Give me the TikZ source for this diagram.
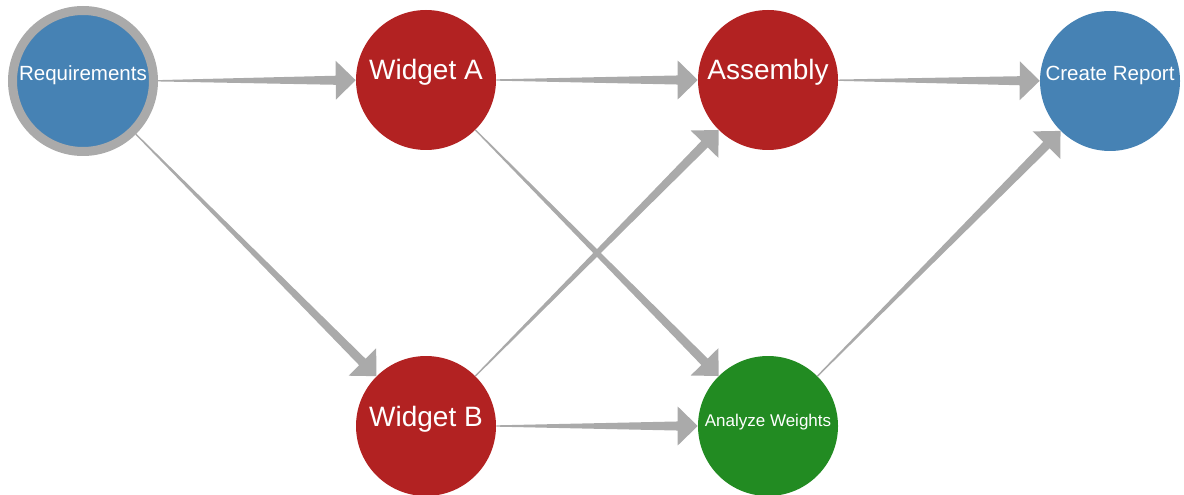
\documentclass[tikz,border=0pt]{standalone}
\usepackage{fontspec}
\usepackage{tikz}
\usetikzlibrary{calc}
\newfontfamily\labelfont{Liberation Sans}
\definecolor{taskblue}{RGB}{70,130,180}
\definecolor{taskred}{RGB}{178,34,34}
\definecolor{taskgreen}{RGB}{34,139,34}
\definecolor{flowgray}{RGB}{170,170,170}

% tapered connector: thin at the source, arrow head at the target
\newcommand{\flow}[2]{%
	\path (#1) -- (#2) coordinate[pos=0] (fs) coordinate[pos=1] (fe);
	\coordinate (fb) at ($(fe)!15pt!(fs)$);
	\fill[flowgray] ($(fs)!0.5pt!90:(fe)$) -- ($(fb)!3.4pt!90:(fe)$) -- ($(fb)!14.6pt!90:(fe)$)
		-- (fe) -- ($(fb)!14.6pt!-90:(fe)$) -- ($(fb)!3.4pt!-90:(fe)$) -- ($(fs)!0.5pt!-90:(fe)$) -- cycle;
}

\begin{document}
\begin{tikzpicture}[x=0.75pt, y=-0.75pt,
		task/.style = {circle, minimum size=105pt, inner sep=0pt, text height=0pt, text depth=0pt, text=white},
		big/.style = {font=\labelfont\fontsize{21}{21}\selectfont},
		small/.style = {font=\labelfont\fontsize{15.4}{16}\selectfont}]
		\useasboundingbox (0,0) rectangle (1184,495);
		\node[task, small, fill=taskblue, draw=flowgray, line width=6.75pt, minimum size=105.75pt] (R) at (83,81) {Requirements};
		\node[task, big, fill=taskred] (WA) at (426,80) {Widget A};
		\node[task, big, fill=taskred] (WB) at (426,426) {Widget B};
		\node[task, big, fill=taskred] (AS) at (768,80) {Assembly};
		\node[task, fill=taskgreen, font=\labelfont\fontsize{12.75}{14}\selectfont] (AW) at (768,426) {Analyze Weights};
		\node[task, small, fill=taskblue] (CR) at (1110,81) {Create Report};
		\flow{R}{WA}
		\flow{R}{WB}
		\flow{WA}{AS}
		\flow{WA}{AW}
		\flow{WB}{AS}
		\flow{WB}{AW}
		\flow{AS}{CR}
		\flow{AW}{CR}
	\end{tikzpicture}
\end{document}
